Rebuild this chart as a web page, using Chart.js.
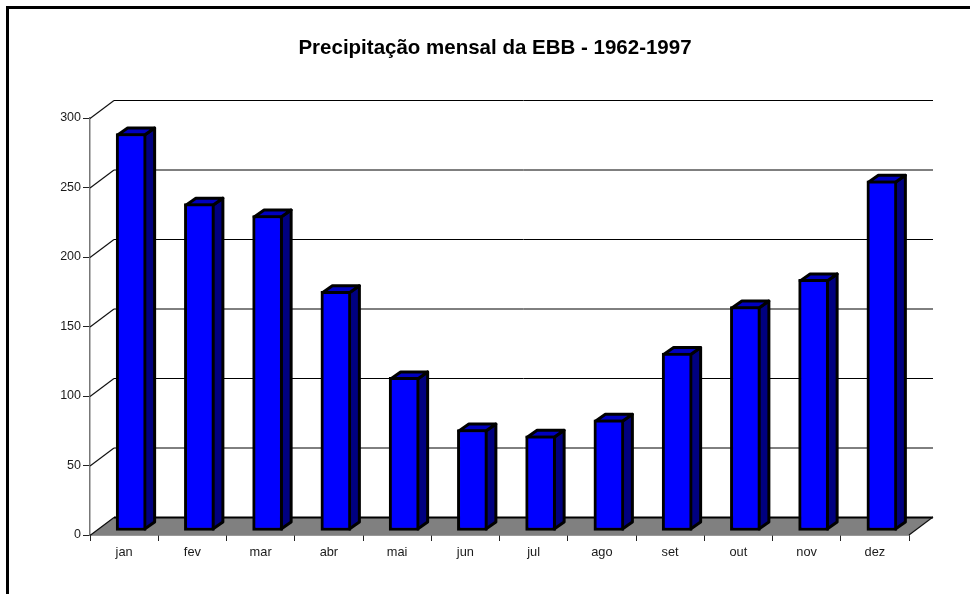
<!DOCTYPE html>
<html><head><meta charset="utf-8">
<style>
html,body{margin:0;padding:0;background:#fff;overflow:hidden}
#wrap{position:relative;width:970px;height:594px}
#frame{position:absolute;left:6px;top:6px;right:0;bottom:0;border-left:3px solid #000;border-top:3px solid #000;pointer-events:none}
canvas{display:block}
</style>
<script src="https://cdn.jsdelivr.net/npm/chart.js@4"></script>
</head><body>
<div id="wrap"><canvas id="c" width="970" height="594"></canvas><div id="frame"></div></div>
<script>
const titleText = 'Precipitação mensal da EBB - 1962-1997';
const months = ['jan','fev','mar','abr','mai','jun','jul','ago','set','out','nov','dez'];
const rainfall = [286,235.5,227,172.5,110.5,73,68.5,80,128,161.5,181,252];
const yMax = 300, yStep = 50;
const wallDx = 24, wallDy = -18, barDx = 7, barDy = -4, sideDx = 10, sideDy = -7;

const scene3d = {
  id:'scene3d',
  afterLayout(chart){
    chart.titleBlock.left = 81;
  },
  beforeDatasetsDraw(chart){
    const {ctx, scales:{x,y}} = chart;
    const l = x.left, r = x.right, b = y.getPixelForValue(0);
    ctx.save();
    ctx.beginPath();
    ctx.moveTo(l,b); ctx.lineTo(l+wallDx,b+wallDy); ctx.lineTo(r+wallDx,b+wallDy); ctx.lineTo(r,b); ctx.closePath();
    ctx.fillStyle='#808080'; ctx.fill();
    y.ticks.forEach(t=>{
      const py = y.getPixelForValue(t.value);
      ctx.lineWidth=1.2; ctx.strokeStyle='#111';
      ctx.beginPath(); ctx.moveTo(l,py+.5); ctx.lineTo(l+wallDx,py+wallDy+.5); ctx.stroke();
      ctx.strokeStyle = '#000';
      ctx.lineWidth = t.value===0 ? 2 : 1;
      ctx.beginPath(); ctx.moveTo(l+wallDx,py+wallDy+.5); ctx.lineTo(r+wallDx,py+wallDy+.5); ctx.stroke();
    });
    ctx.strokeStyle='#111'; ctx.lineWidth=1.2;
    ctx.beginPath(); ctx.moveTo(r,b); ctx.lineTo(r+wallDx,b+wallDy); ctx.stroke();
    ctx.restore();
    ctx.save();
    ctx.translate(barDx,barDy);
    const lw=3, h=lw/2;
    chart.getDatasetMeta(0).data.forEach(bar=>{
      const x0=bar.x-bar.width/2, x1=bar.x+bar.width/2, top=bar.y, base=bar.base;
      ctx.lineWidth=lw; ctx.strokeStyle='#000'; ctx.lineJoin='round';
      ctx.fillStyle='#000080';
      ctx.beginPath();
      ctx.moveTo(x1-h,top+h); ctx.lineTo(x1-h+sideDx,top+h+sideDy); ctx.lineTo(x1-h+sideDx,base-h+sideDy); ctx.lineTo(x1-h,base-h); ctx.closePath();
      ctx.fill(); ctx.stroke();
      ctx.fillStyle='#0000c0';
      ctx.beginPath();
      ctx.moveTo(x0+h,top+h); ctx.lineTo(x0+h+sideDx,top+h+sideDy); ctx.lineTo(x1-h+sideDx,top+h+sideDy); ctx.lineTo(x1-h,top+h); ctx.closePath();
      ctx.fill(); ctx.stroke();
    });
  },
  afterDatasetsDraw(chart){ chart.ctx.restore(); }
};

new Chart(document.getElementById('c'),{
  type:'bar',
  data:{labels:months,datasets:[{data:rainfall,backgroundColor:'#0000ff',borderColor:'#000',borderWidth:3,borderSkipped:false,barThickness:30}]},
  plugins:[scene3d],
  options:{
    responsive:false,animation:false,
    layout:{padding:{left:0,right:61,top:0,bottom:0}},
    plugins:{
      legend:{display:false},tooltip:{enabled:false},
      title:{display:true,text:titleText,color:'#000',font:{family:'"Liberation Sans"',size:20.5,weight:'bold',lineHeight:1.2},padding:{top:36,bottom:57.4}}
    },
    scales:{
      x:{
        afterFit(s){s.height=59;},
        grid:{offset:true,drawOnChartArea:false,color:'#222',tickLength:6,tickColor:'#222'},
        border:{display:true,color:'#333',width:1.5},
        ticks:{color:'#1a1a1a',font:{family:'"Liberation Sans"',size:12.8},padding:4,maxRotation:0,autoSkip:false}
      },
      y:{
        min:0,max:yMax,
        afterFit(s){s.width=90;},
        grid:{drawOnChartArea:false,color:'#222',tickLength:7,tickColor:'#222'},
        border:{display:true,color:'#777',width:1.5},
        ticks:{stepSize:yStep,color:'#1a1a1a',font:{family:'"Liberation Sans"',size:12.5},padding:2}
      }
    }
  }
});
</script>
</body></html>
